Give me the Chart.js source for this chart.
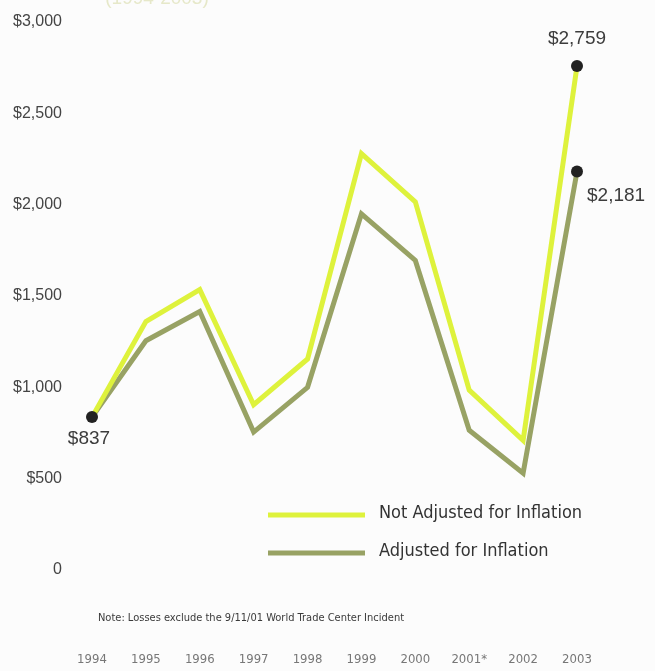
<!DOCTYPE html>
<html>
<head>
<meta charset="utf-8">
<script src="https://cdn.jsdelivr.net/npm/chart.js@4.4.1/dist/chart.umd.min.js"></script>
<style>
  html, body { margin: 0; padding: 0; background: #fcfcfc; }
  #wrap { position: relative; width: 655px; height: 671px; }
</style>
</head>
<body>
<div id="wrap"><canvas id="lossChart" width="655" height="671"></canvas></div>
<script>
// losses in millions of dollars, 1994-2003
var years = ["1994", "1995", "1996", "1997", "1998", "1999", "2000", "2001*", "2002", "2003"];
var notAdjusted = [837, 1360, 1535, 905, 1155, 2280, 2015, 985, 710, 2759];
var adjusted = [837, 1255, 1415, 755, 1000, 1950, 1695, 765, 530, 2181];
var yTicks = [0, 500, 1000, 1500, 2000, 2500, 3000];

var seriesNames = ["Not Adjusted for Inflation", "Adjusted for Inflation"];
var seriesColors = ["#def23c", "#98a264"];
var noteText = "Note: Losses exclude the 9/11/01 World Trade Center Incident";
var periodText = "(1994-2003)";

var narrow = "'Liberation Sans Narrow', 'DejaVu Sans Condensed', 'Liberation Sans', sans-serif";
var plain = "'Liberation Sans', Arial, sans-serif";

function money(v) {
	return v === 0 ? "0" : "$" + v.toLocaleString("en-US");
}

// dots only on the first and last year
function endDots(n, first) {
	var r = [];
	for (var i = 0; i < n; i++) {
		r.push((i === n - 1 || (first && i === 0)) ? 6 : 0);
	}
	return r;
}

/*-------------- extra text: value labels, legend, note ------------*/
var extras = {
	id: 'extras',
	afterDatasetsDraw: function (chart) {
		var ctx = chart.ctx;
		var top = chart.getDatasetMeta(0).data;
		var low = chart.getDatasetMeta(1).data;
		var last = years.length - 1;

		ctx.save();
		ctx.fillStyle = "#3c3c3c";
		ctx.font = "19px " + plain;
		ctx.textBaseline = "middle";

		ctx.textAlign = "center";
		ctx.fillText(money(notAdjusted[last]), top[last].x, top[last].y - 27);
		ctx.fillText(money(notAdjusted[0]), top[0].x - 3, top[0].y + 22);

		ctx.textAlign = "left";
		ctx.fillText(money(adjusted[last]), low[last].x + 10, low[last].y + 24);

		// legend
		var lx = 268;
		var rows = [515, 553];
		ctx.font = "18px " + narrow;
		ctx.lineWidth = 5;
		for (var i = 0; i < 2; i++) {
			ctx.strokeStyle = seriesColors[i];
			ctx.beginPath();
			ctx.moveTo(lx, rows[i]);
			ctx.lineTo(lx + 97, rows[i]);
			ctx.stroke();
			ctx.fillStyle = "#333333";
			ctx.fillText(seriesNames[i], lx + 111, rows[i] - 2);
		}

		// note under the plot
		ctx.textAlign = "center";
		ctx.fillStyle = "#3a3a3a";
		ctx.font = "11px " + narrow;
		ctx.fillText(noteText, 251, 618);

		// period line, mostly above the top edge
		ctx.fillStyle = "#e6e8c9";
		ctx.font = "19px " + plain;
		ctx.textBaseline = "alphabetic";
		ctx.fillText(periodText, 157, 4);
		ctx.restore();
	}
};

var ctx = document.getElementById("lossChart").getContext('2d');

var chart = new Chart(ctx, {
	type: 'line',
	data: {
		labels: years,
		datasets: [{
			label: seriesNames[0],
			data: notAdjusted,
			borderColor: seriesColors[0],
			borderWidth: 5,
			pointRadius: endDots(years.length, true),
			pointBackgroundColor: "#222222",
			pointBorderWidth: 0,
			tension: 0,
			fill: false
		}, {
			label: seriesNames[1],
			data: adjusted,
			borderColor: seriesColors[1],
			borderWidth: 5,
			pointRadius: endDots(years.length, false),
			pointBackgroundColor: "#222222",
			pointBorderWidth: 0,
			tension: 0,
			fill: false
		}]
	},
	options: {
		responsive: false,
		animation: false,
		layout: {
			autoPadding: false,
			padding: { top: 22, right: 78, left: 0, bottom: 0 }
		},
		plugins: {
			legend: { display: false },
			tooltip: { enabled: false }
		},
		scales: {
			x: {
				grid: { display: false, drawTicks: false },
				border: { display: false },
				ticks: {
					padding: 82,
					maxRotation: 0,
					autoSkip: false,
					color: "#777777",
					font: { family: narrow, size: 13 }
				},
				// the big label padding would otherwise squeeze the plot sideways
				afterFit: function (scale) {
					scale.height = 101;
					scale.paddingLeft = 0;
					scale.paddingRight = 0;
				}
			},
			y: {
				min: 0,
				max: 3000,
				grid: { display: false, drawTicks: false },
				border: { display: false },
				afterBuildTicks: function (scale) {
					scale.ticks = yTicks.map(function (v) { return { value: v }; });
				},
				afterFit: function (scale) {
					scale.width = 92;
					scale.paddingTop = 0;
					scale.paddingBottom = 0;
				},
				ticks: {
					padding: 30,
					color: "#444444",
					font: { family: plain, size: 16 },
					callback: function (value) { return money(value); }
				}
			}
		}
	},
	plugins: [extras]
});
</script>
</body>
</html>
